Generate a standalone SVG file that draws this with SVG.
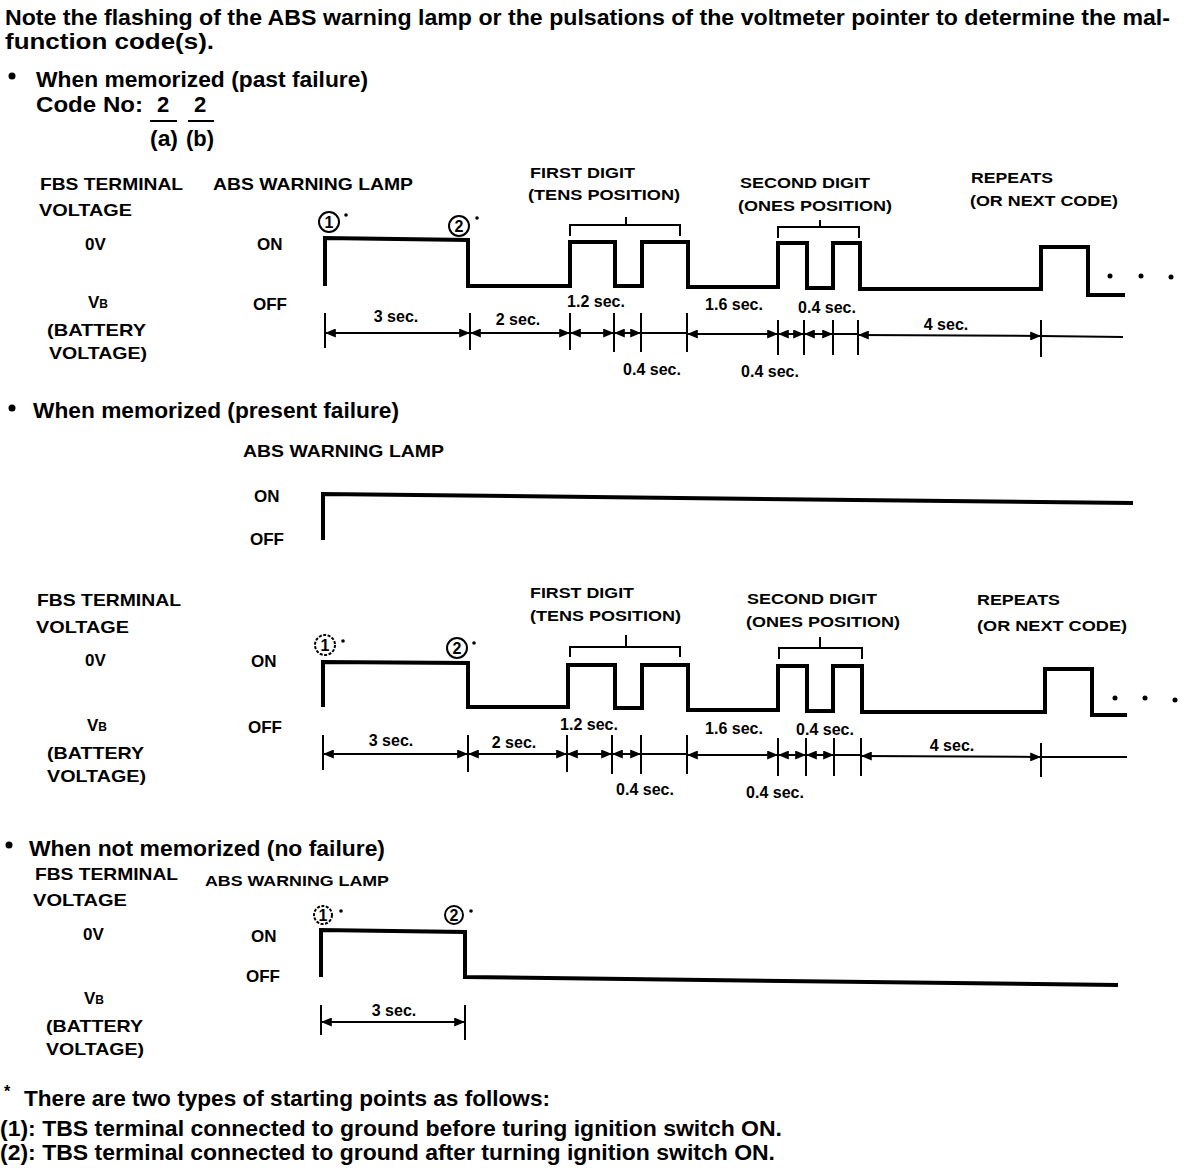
<svg xmlns="http://www.w3.org/2000/svg" width="1200" height="1168" viewBox="0 0 1200 1168">
<style>
text{font-family:"Liberation Sans",Arial,Helvetica,sans-serif;fill:#000}
.n{font-size:22px;font-weight:bold}
.l{font-size:17px;font-weight:bold}
.s{font-size:16px;font-weight:bold}
.h{font-size:14px;font-weight:900}
.c{font-size:16px;font-weight:bold}
.w{fill:none;stroke:#000;stroke-width:4;stroke-linejoin:miter}
.k{fill:none;stroke:#000;stroke-width:2}
.a{fill:none;stroke:#000;stroke-width:2;marker-start:url(#ar);marker-end:url(#ar)}
.m{fill:#fff;stroke:#000;stroke-width:2}
</style>
<defs>
<marker id="ar" viewBox="0 0 12 10" refX="12" refY="5" markerWidth="11" markerHeight="9" markerUnits="userSpaceOnUse" orient="auto-start-reverse">
<path d="M0,0 L12,5 L0,10 z" fill="#000"/>
</marker>
</defs>
<rect width="1200" height="1168" fill="#fff"/>

<g id="intro">
<text class="n" x="5" y="25" textLength="1165" lengthAdjust="spacingAndGlyphs">Note the flashing of the ABS warning lamp or the pulsations of the voltmeter pointer to determine the mal-</text>
<text class="n" x="5" y="49" textLength="209" lengthAdjust="spacingAndGlyphs">function code(s).</text>
</g>

<g id="section-past">
<circle cx="12" cy="76" r="3.5" fill="#000"/>
<text class="n" x="36" y="87" textLength="332" lengthAdjust="spacingAndGlyphs">When memorized (past failure)</text>
<text class="n" x="36" y="112" textLength="107" lengthAdjust="spacingAndGlyphs">Code No:</text>
<text class="n" x="157" y="112">2</text>
<text class="n" x="194" y="112">2</text>
<path class="k" d="M150,121 H177 M188,121 H214"/>
<text class="n" x="150" y="146" textLength="28" lengthAdjust="spacingAndGlyphs">(a)</text>
<text class="n" x="186" y="146" textLength="28" lengthAdjust="spacingAndGlyphs">(b)</text>

<text class="l" x="40" y="190" textLength="143" lengthAdjust="spacingAndGlyphs">FBS TERMINAL</text>
<text class="l" x="39" y="216" textLength="93" lengthAdjust="spacingAndGlyphs">VOLTAGE</text>
<text class="l" x="85" y="250">0V</text>
<text class="l" x="88" y="308">V<tspan font-size="12">B</tspan></text>
<text class="l" x="47" y="336" textLength="99" lengthAdjust="spacingAndGlyphs">(BATTERY</text>
<text class="l" x="49" y="359" textLength="98" lengthAdjust="spacingAndGlyphs">VOLTAGE)</text>
<text class="l" x="213" y="190" textLength="200" lengthAdjust="spacingAndGlyphs">ABS WARNING LAMP</text>
<text class="l" x="257" y="250">ON</text>
<text class="l" x="253" y="310">OFF</text>

<path class="w" d="M325,286 V238 L468,240 V286 H570 V242 H615 V286 H642 V242 H688 V287 H778 V243 H807 V288 H833 V243 H860 V289 H1041 V247 H1088 V295 H1125"/>
<circle cx="1110" cy="276" r="2.5"/><circle cx="1141" cy="276" r="2.5"/><circle cx="1171" cy="277" r="2.5"/>

<circle class="m" cx="329" cy="222" r="10"/><text class="c" x="329" y="228" text-anchor="middle">1</text><circle cx="346" cy="215" r="1.8"/>
<circle class="m" cx="459" cy="226" r="10"/><text class="c" x="459" y="232" text-anchor="middle">2</text><circle cx="477" cy="218" r="1.8"/>

<path class="k" d="M570,236 V225 H680 V236 M626,225 V217"/>
<path class="k" d="M778,238 V227 H859 V238 M820,227 V220"/>
<text class="h" x="530" y="178" textLength="105" lengthAdjust="spacingAndGlyphs">FIRST DIGIT</text>
<text class="h" x="528" y="200" textLength="152" lengthAdjust="spacingAndGlyphs">(TENS POSITION)</text>
<text class="h" x="740" y="188" textLength="130" lengthAdjust="spacingAndGlyphs">SECOND DIGIT</text>
<text class="h" x="738" y="211" textLength="154" lengthAdjust="spacingAndGlyphs">(ONES POSITION)</text>
<text class="h" x="971" y="183" textLength="82" lengthAdjust="spacingAndGlyphs">REPEATS</text>
<text class="h" x="970" y="206" textLength="148" lengthAdjust="spacingAndGlyphs">(OR NEXT CODE)</text>

<path class="k" d="M325,313 V348 M470,313 V350 M570,313 V350 M614,313 V352 M641,313 V352 M687,313 V352 M778,320 V355 M804,320 V355 M833,320 V355 M858,320 V355 M1041,320 V357"/>
<line class="a" x1="325" y1="333" x2="470" y2="333"/>
<line class="a" x1="470" y1="333" x2="570" y2="333"/>
<line class="a" x1="570" y1="333" x2="614" y2="333"/>
<line class="a" x1="614" y1="333" x2="641" y2="333"/>
<line class="k" x1="641" y1="333" x2="687" y2="333"/>
<line class="a" x1="687" y1="334" x2="778" y2="334"/>
<line class="a" x1="778" y1="334" x2="804" y2="334"/>
<line class="a" x1="804" y1="334" x2="833" y2="334"/>
<line class="k" x1="833" y1="334" x2="858" y2="334"/>
<line class="a" x1="858" y1="335" x2="1041" y2="336"/>
<line class="k" x1="1041" y1="336" x2="1123" y2="337"/>
<text class="s" x="396" y="322" text-anchor="middle">3 sec.</text>
<text class="s" x="518" y="325" text-anchor="middle">2 sec.</text>
<text class="s" x="596" y="307" text-anchor="middle">1.2 sec.</text>
<text class="s" x="734" y="310" text-anchor="middle">1.6 sec.</text>
<text class="s" x="827" y="313" text-anchor="middle">0.4 sec.</text>
<text class="s" x="946" y="330" text-anchor="middle">4 sec.</text>
<text class="s" x="652" y="375" text-anchor="middle">0.4 sec.</text>
<text class="s" x="770" y="377" text-anchor="middle">0.4 sec.</text>
</g>

<g id="section-present">
<circle cx="12" cy="408" r="3.5" fill="#000"/>
<text class="n" x="33" y="418" textLength="366" lengthAdjust="spacingAndGlyphs">When memorized (present failure)</text>
<text class="l" x="243" y="457" textLength="201" lengthAdjust="spacingAndGlyphs">ABS WARNING LAMP</text>
<text class="l" x="254" y="502">ON</text>
<text class="l" x="250" y="545">OFF</text>
<path class="w" d="M323,540 V494 L1133,503"/>

<text class="l" x="37" y="606" textLength="144" lengthAdjust="spacingAndGlyphs">FBS TERMINAL</text>
<text class="l" x="36" y="633" textLength="93" lengthAdjust="spacingAndGlyphs">VOLTAGE</text>
<text class="l" x="85" y="666">0V</text>
<text class="l" x="87" y="731">V<tspan font-size="12">B</tspan></text>
<text class="l" x="47" y="759" textLength="97" lengthAdjust="spacingAndGlyphs">(BATTERY</text>
<text class="l" x="47" y="782" textLength="99" lengthAdjust="spacingAndGlyphs">VOLTAGE)</text>
<text class="l" x="251" y="667">ON</text>
<text class="l" x="248" y="733">OFF</text>

<path class="w" d="M323,707 V662 L468,663 V707 H568 V665 H615 V708 H642 V665 H688 V710 H778 V666 H807 V711 H833 V666 H862 V712 H1045 V669 H1092 V715 H1127"/>
<circle cx="1115" cy="698" r="2.5"/><circle cx="1145" cy="698" r="2.5"/><circle cx="1175" cy="700" r="2.5"/>

<circle class="m" cx="325" cy="645" r="10" stroke-width="1.5" stroke-dasharray="3 1.5"/><text class="c" x="325" y="651" text-anchor="middle">1</text><circle cx="343" cy="641" r="1.8"/>
<circle class="m" cx="457" cy="648" r="10" stroke-width="1.5"/><text class="c" x="457" y="654" text-anchor="middle">2</text><circle cx="474" cy="643" r="1.8"/>

<path class="k" d="M570,657 V647 H680 V657 M626,647 V635"/>
<path class="k" d="M779,659 V648 H862 V659 M820,648 V637"/>
<text class="h" x="530" y="598" textLength="104" lengthAdjust="spacingAndGlyphs">FIRST DIGIT</text>
<text class="h" x="530" y="621" textLength="151" lengthAdjust="spacingAndGlyphs">(TENS POSITION)</text>
<text class="h" x="747" y="604" textLength="130" lengthAdjust="spacingAndGlyphs">SECOND DIGIT</text>
<text class="h" x="746" y="627" textLength="154" lengthAdjust="spacingAndGlyphs">(ONES POSITION)</text>
<text class="h" x="977" y="605" textLength="83" lengthAdjust="spacingAndGlyphs">REPEATS</text>
<text class="h" x="977" y="631" textLength="150" lengthAdjust="spacingAndGlyphs">(OR NEXT CODE)</text>

<path class="k" d="M323,735 V770 M468,735 V772 M567,735 V772 M612,735 V774 M641,735 V774 M687,735 V774 M778,738 V776 M806,738 V776 M834,738 V776 M861,738 V776 M1041,743 V777"/>
<line class="a" x1="323" y1="754" x2="468" y2="754"/>
<line class="a" x1="468" y1="754" x2="567" y2="754"/>
<line class="a" x1="567" y1="754" x2="612" y2="754"/>
<line class="a" x1="612" y1="754" x2="641" y2="754"/>
<line class="k" x1="641" y1="754" x2="687" y2="754"/>
<line class="a" x1="687" y1="755" x2="778" y2="755"/>
<line class="a" x1="778" y1="755" x2="806" y2="755"/>
<line class="a" x1="806" y1="755" x2="834" y2="755"/>
<line class="k" x1="834" y1="755" x2="861" y2="755"/>
<line class="a" x1="861" y1="756" x2="1041" y2="757"/>
<line class="k" x1="1041" y1="757" x2="1127" y2="757"/>
<text class="s" x="391" y="746" text-anchor="middle">3 sec.</text>
<text class="s" x="514" y="748" text-anchor="middle">2 sec.</text>
<text class="s" x="589" y="730" text-anchor="middle">1.2 sec.</text>
<text class="s" x="734" y="734" text-anchor="middle">1.6 sec.</text>
<text class="s" x="825" y="735" text-anchor="middle">0.4 sec.</text>
<text class="s" x="952" y="751" text-anchor="middle">4 sec.</text>
<text class="s" x="645" y="795" text-anchor="middle">0.4 sec.</text>
<text class="s" x="775" y="798" text-anchor="middle">0.4 sec.</text>
</g>

<g id="section-none">
<circle cx="9" cy="845" r="3.5" fill="#000"/>
<text class="n" x="29" y="856" textLength="356" lengthAdjust="spacingAndGlyphs">When not memorized (no failure)</text>
<text class="l" x="35" y="880" textLength="143" lengthAdjust="spacingAndGlyphs">FBS TERMINAL</text>
<text class="l" x="33" y="906" textLength="94" lengthAdjust="spacingAndGlyphs">VOLTAGE</text>
<text class="l" x="83" y="940">0V</text>
<text class="l" x="84" y="1004">V<tspan font-size="12">B</tspan></text>
<text class="l" x="46" y="1032" textLength="97" lengthAdjust="spacingAndGlyphs">(BATTERY</text>
<text class="l" x="46" y="1055" textLength="98" lengthAdjust="spacingAndGlyphs">VOLTAGE)</text>
<text x="205" y="886" font-size="14" font-weight="900" textLength="184" lengthAdjust="spacingAndGlyphs">ABS WARNING LAMP</text>
<text class="l" x="251" y="942">ON</text>
<text class="l" x="246" y="982">OFF</text>

<path class="w" d="M321,977 V930 L465,932 V977 L1118,985"/>
<circle class="m" cx="323" cy="915" r="9" stroke-width="1.5" stroke-dasharray="3 1.5"/><text class="c" x="323" y="921" text-anchor="middle">1</text><circle cx="341" cy="911" r="1.8"/>
<circle class="m" cx="454" cy="915" r="9" stroke-width="1.5"/><text class="c" x="454" y="921" text-anchor="middle">2</text><circle cx="471" cy="911" r="1.8"/>

<path class="k" d="M321,1005 V1035 M465,1005 V1040"/>
<line class="a" x1="321" y1="1022" x2="465" y2="1022"/>
<text class="s" x="394" y="1016" text-anchor="middle">3 sec.</text>
</g>

<g id="footnotes">
<text x="4" y="1097" font-size="16" font-weight="bold">*</text>
<text class="n" x="24" y="1106" textLength="526" lengthAdjust="spacingAndGlyphs">There are two types of starting points as follows:</text>
<text class="n" x="0" y="1136" textLength="782" lengthAdjust="spacingAndGlyphs">(1):  TBS terminal connected to ground before turing ignition switch ON.</text>
<text class="n" x="0" y="1160" textLength="775" lengthAdjust="spacingAndGlyphs">(2):  TBS terminal connected to ground after turning ignition switch ON.</text>
</g>
</svg>
